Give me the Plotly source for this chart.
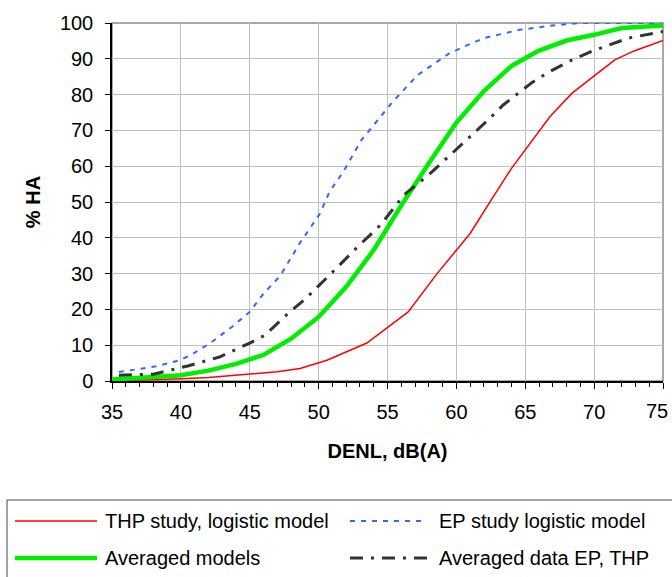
import plotly.graph_objects as go

# ---------------- data ----------------
thp_x = [35, 38, 40, 42, 45, 47, 48.65, 50.6, 53.5, 56.5, 58.6, 61, 62.45, 64, 66.8, 68.4, 70.1, 71.5, 72.9, 75]
thp_y = [0, 0.3, 0.6, 1.0, 2.0, 2.6, 3.5, 5.8, 10.6, 19.3, 30, 41.2, 50.1, 59.4, 73.9, 80.4, 85.5, 89.7, 92.2, 95.1]

ep_x = [35.5, 38.2, 39.9, 40.7, 42.1, 43.7, 45, 46, 47.2, 48.05, 48.6, 50.1, 50.8, 51.8, 53.1, 54.3,
        55.4, 57.2, 58.7, 59.4, 60.5, 62, 64.6, 67, 69, 75]
ep_y = [2.5, 4.1, 5.8, 7.2, 10.5, 15.1, 19.3, 24.4, 29.3, 34.9, 38.3, 46.8, 52.9, 58.5, 67.3, 72.9,
        78.1, 85.5, 89.5, 91.3, 93.3, 95.8, 98.1, 99.3, 100, 100]

avg_models_x = [35, 36, 38, 40, 42, 44, 46, 48, 50, 52, 54, 56, 58, 60, 62, 64, 66, 68, 70, 72, 75]
avg_models_y = [0.4, 0.6, 1.0, 1.6, 2.9, 4.8, 7.3, 11.8, 17.9, 26.3, 36.6, 49, 60.8, 72.2, 81, 88,
                92.3, 95.1, 96.7, 98.6, 99.3]

avg_data_x = [35.5, 38, 40.5, 42.8, 45, 46.1, 47.9, 49, 50.8, 52.6, 54.5, 56.2, 58, 59.9, 62.3, 63.4,
              65.5, 66.8, 68.5, 70.1, 72.5, 75]
avg_data_y = [1.6, 1.9, 4.2, 6.7, 10.6, 12.8, 19.3, 22.8, 29.6, 36.6, 43.6, 52, 57.6, 64.3, 72.9, 77.1,
              83.4, 86.5, 89.9, 92.5, 95.8, 97.6]

series_names = ["THP study, logistic model", "EP study logistic model",
                "Averaged models", "Averaged data EP, THP"]

x_ticks = [35, 40, 45, 50, 55, 60, 65, 70, 75]
y_ticks = [0, 10, 20, 30, 40, 50, 60, 70, 80, 90, 100]

# ---------------- styling ----------------
FONT = "Arial, Liberation Sans, sans-serif"
W, H = 672, 577
ML, MR, MT, MB = 112, 9, 23, 196
PW, PH = W - ML - MR, H - MT - MB

styles = [
    dict(color="#ff0000", width=1.5, dash="solid"),
    dict(color="#3366ff", width=2, dash="5px,6px"),
    dict(color="#00ee00", width=4.5, dash="solid"),
    dict(color="#333333", width=3, dash="13px,8px,3px,8px"),
]
xs = [thp_x, ep_x, avg_models_x, avg_data_x]
ys = [thp_y, ep_y, avg_models_y, avg_data_y]

fig = go.Figure()
for name, x, y, st in zip(series_names, xs, ys, styles):
    fig.add_trace(go.Scatter(x=x, y=y, mode="lines", name=name, showlegend=False,
                             line=dict(color=st["color"], width=st["width"], dash=st["dash"])))

def px2paper_x(px):
    return (px - ML) / PW

def px2paper_y(py):
    return (H - MB - py) / PH

shapes = []
annotations = []
# plot border
shapes.append(dict(type="rect", xref="paper", yref="paper", x0=0, x1=1, y0=0, y1=1,
                   line=dict(color="#8a8a8a", width=1.5), layer="below"))
# legend box
shapes.append(dict(type="rect", xref="paper", yref="paper",
                   x0=px2paper_x(7), x1=px2paper_x(720), y0=px2paper_y(500), y1=px2paper_y(620),
                   line=dict(color="#444444", width=1)))
# legend entries
legend_pos = [(15, 97, 103, 521), (350, 427, 437, 521), (15, 97, 103, 558), (350, 427, 437, 558)]
for name, st, (lx0, lx1, tx, ly) in zip(series_names, styles, legend_pos):
    shapes.append(dict(type="line", xref="paper", yref="paper",
                       x0=px2paper_x(lx0), x1=px2paper_x(lx1), y0=px2paper_y(ly), y1=px2paper_y(ly),
                       line=dict(color=st["color"], width=st["width"], dash=st["dash"])))
    annotations.append(dict(text=name, xref="paper", yref="paper", x=px2paper_x(tx), y=px2paper_y(ly),
                            xanchor="left", yanchor="middle", showarrow=False,
                            font=dict(family=FONT, size=20, color="black")))

# last x label: drawn right-aligned at the page edge (as in the reference, where it is nudged left)
x_ticktext = [str(v) for v in x_ticks]
last_label = x_ticktext[-1]
x_ticktext[-1] = ""
annotations.append(dict(text=last_label, xref="x", yref="y", x=x_ticks[-1], y=0,
                        xanchor="right", yanchor="middle", xshift=7, yshift=-30,
                        showarrow=False, font=dict(family=FONT, size=20, color="black")))

fig.update_layout(
    width=W, height=H,
    margin=dict(l=ML, r=MR, t=MT, b=MB, autoexpand=False),
    paper_bgcolor="white", plot_bgcolor="white",
    font=dict(family=FONT, size=20, color="black"),
    showlegend=False,
    shapes=shapes, annotations=annotations,
)
fig.update_xaxes(
    range=[35, 75], tickvals=x_ticks, ticktext=x_ticktext,
    showgrid=True, gridcolor="#c0c0c0", gridwidth=1, zeroline=False,
    showline=True, linecolor="black", linewidth=1.5,
    ticks="outside", ticklen=6, tickcolor="black", tickwidth=1.2,
    minor=dict(dtick=1, ticks="outside", ticklen=4, tickcolor="black", tickwidth=1, showgrid=False),
    ticklabelstandoff=6, ticklabeloverflow="allow", automargin=False,
    tickfont=dict(family=FONT, size=20),
    title=dict(text="<b>DENL, dB(A)</b>", font=dict(family=FONT, size=20), standoff=22),
)
fig.update_yaxes(
    range=[0, 100], tickvals=y_ticks, ticktext=[str(v) for v in y_ticks],
    showgrid=True, gridcolor="#c0c0c0", gridwidth=1, zeroline=False,
    showline=True, linecolor="black", linewidth=1.5,
    ticks="outside", ticklen=5, tickcolor="black", tickwidth=1.2,
    ticklabelstandoff=8, automargin=False,
    tickfont=dict(family=FONT, size=20),
    title=dict(text="<b>% HA</b>", font=dict(family=FONT, size=20), standoff=14),
)

fig.write_html("out.html")
